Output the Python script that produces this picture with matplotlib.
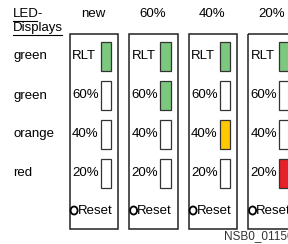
import matplotlib
matplotlib.use("Agg")
import matplotlib.pyplot as plt
from matplotlib.patches import Rectangle, Ellipse

plt.rcParams['font.family'] = ['Liberation Sans', 'DejaVu Sans']

columns = ["new", "60%", "40%", "20%"]
row_labels = ["RLT", "60%", "40%", "20%"]
led_names = ["green", "green", "orange", "red"]
# lit state per column (1 = lit, 0 = off) for each LED row
states = [
    [1, 0, 0, 0],
    [1, 1, 0, 0],
    [1, 0, 1, 0],
    [1, 0, 0, 1],
]
led_colors = ["#7DC87F", "#7DC87F", "#FFC800", "#E8202A"]
header = ["LED-", "Displays"]
reset_label = "Reset"
code_label = "NSB0_01150"

fig = plt.figure(figsize=(2.88, 2.44), dpi=100)
ax = fig.add_axes([0, 0, 1, 1])
ax.set_xlim(0, 288)
ax.set_ylim(244, 0)
ax.axis('off')

fs = 9.5
# header
ax.text(13, 14, header[0], fontsize=fs, va='center', ha='left')
ax.text(13, 28, header[1], fontsize=fs, va='center', ha='left')
ax.plot([13, 37], [20.5, 20.5], color='black', lw=0.8)
ax.plot([13, 62], [34.5, 34.5], color='black', lw=0.8)

row_y = [56, 95.5, 134, 173.5]
for y, name in zip(row_y, led_names):
    ax.text(13, y, name, fontsize=fs, va='center', ha='left')

panel_x0 = 69.5
panel_dx = 59.5
panel_w = 48.5
for ci, col in enumerate(columns):
    x0 = panel_x0 + ci * panel_dx
    ax.text(x0 + 23.5, 14, col, fontsize=fs, va='center', ha='center')
    ax.add_patch(Rectangle((x0, 34), panel_w, 194.5, fill=False,
                           edgecolor='#222222', lw=1.1))
    for ri, (y, lab) in enumerate(zip(row_y, row_labels)):
        ax.text(x0 + 2.5, y, lab, fontsize=fs, va='center', ha='left')
        lit = states[ci][ri]
        fc = led_colors[ri] if lit else 'white'
        ax.add_patch(Rectangle((x0 + 31.3, y - 14.5), 10.5, 29, facecolor=fc,
                               edgecolor='#333333', lw=0.9))
    ax.add_patch(Ellipse((x0 + 4.6, 210.5), 7, 8, fill=False,
                         edgecolor='black', lw=1.3))
    ax.text(x0 + 8.2, 210.8, reset_label, fontsize=fs, va='center', ha='left')

ax.text(224, 236, code_label, fontsize=8.5, va='center', ha='left', color='#333333')

fig.savefig("out.png", dpi=100)
